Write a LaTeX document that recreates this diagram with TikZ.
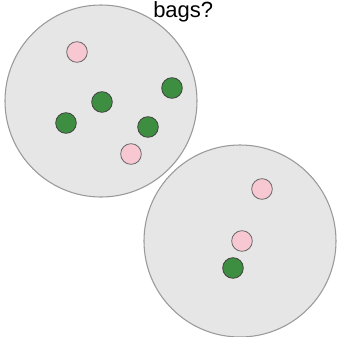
\documentclass[tikz,border=0pt]{standalone}
\usepackage{fontspec}
\setmainfont{Liberation Sans}
\usetikzlibrary{positioning}
\definecolor{bagfill}{HTML}{E6E6E6}
\definecolor{bagline}{HTML}{9A9A9A}
\definecolor{pinkball}{HTML}{F8C8D2}
\definecolor{greenball}{HTML}{3E8E41}
\begin{document}
\begin{tikzpicture}[
    x=0.75pt, y=-0.75pt,
    every node/.style={font=\fontsize{16.5}{19}\selectfont},
    bag/.style={draw=bagline, fill=bagfill, circle, line width=0.8pt, inner sep=0pt, minimum size=144pt},
    pinkdot/.style={draw=black!60, fill=pinkball, circle, line width=0.6pt, inner sep=0pt, minimum size=15.5pt},
    greendot/.style={draw=black!75, fill=greenball, circle, line width=0.6pt, inner sep=0pt, minimum size=15.5pt}
]
\useasboundingbox (0,0) rectangle (337,337);
% the two bags
\node[bag] (bagA) at (101,101) {};
\node[bag] (bagB) at (240,241) {};
\node[anchor=base west, inner sep=0pt] (question) at (153,17) {bags?};
% balls in the first bag
\node[pinkdot] (a1) at (77,52) {};
\node[greendot] (a2) at (102,102) {};
\node[greendot] (a3) at (172,88) {};
\node[greendot] (a4) at (66,123) {};
\node[greendot] (a5) at (148,127) {};
\node[pinkdot] (a6) at (131,154) {};
% balls in the second bag
\node[pinkdot] (b1) at (262,189) {};
\node[pinkdot] (b2) at (242,241) {};
\node[greendot] (b3) at (233,268) {};
\end{tikzpicture}
\end{document}
